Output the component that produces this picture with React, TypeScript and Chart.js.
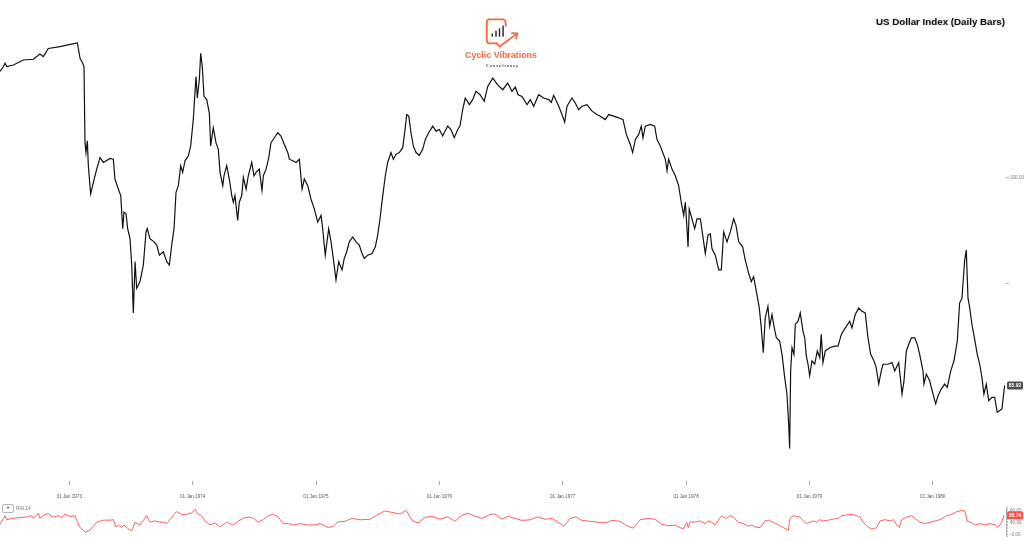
import React, { useEffect, useRef } from "react";
import { Chart, registerables } from "chart.js";

Chart.register(...registerables);

// ---------- data ----------
const priceDates = [
  1972.438, 1972.465, 1972.479, 1972.493, 1972.546, 1972.627, 1972.708, 1972.762, 1972.789, 1972.830,
  1972.925, 1972.979, 1973.046, 1973.065, 1973.087, 1973.109, 1973.119, 1973.127, 1973.135, 1973.146,
  1973.154, 1973.173, 1973.195, 1973.222, 1973.249, 1973.276, 1973.330, 1973.357, 1973.370, 1973.397,
  1973.417, 1973.433, 1973.443, 1973.460, 1973.473, 1973.492, 1973.506, 1973.519, 1973.533, 1973.546,
  1973.573, 1973.600, 1973.622, 1973.632, 1973.654, 1973.687, 1973.709, 1973.730, 1973.762, 1973.790,
  1973.811, 1973.830, 1973.849, 1973.865, 1973.884, 1973.903, 1973.919, 1973.938, 1973.965, 1973.984,
  1974.005, 1974.027, 1974.038, 1974.054, 1974.065, 1974.078, 1974.092, 1974.114, 1974.135, 1974.146,
  1974.167, 1974.189, 1974.208, 1974.222, 1974.244, 1974.254, 1974.276, 1974.297, 1974.317, 1974.330,
  1974.343, 1974.365, 1974.378, 1974.398, 1974.411, 1974.433, 1974.451, 1974.479, 1974.497, 1974.514,
  1974.540, 1974.562, 1974.573, 1974.595, 1974.617, 1974.635, 1974.662, 1974.690, 1974.716, 1974.743,
  1974.771, 1974.784, 1974.811, 1974.838, 1974.865, 1974.887, 1974.905, 1974.933, 1974.959, 1974.986,
  1975.014, 1975.041, 1975.054, 1975.075, 1975.103, 1975.122, 1975.140, 1975.162, 1975.184, 1975.211,
  1975.229, 1975.249, 1975.270, 1975.298, 1975.324, 1975.351, 1975.373, 1975.392, 1975.419, 1975.454,
  1975.481, 1975.500, 1975.519, 1975.541, 1975.562, 1975.581, 1975.608, 1975.627, 1975.649, 1975.675,
  1975.703, 1975.722, 1975.735, 1975.752, 1975.770, 1975.789, 1975.811, 1975.837, 1975.865, 1975.886,
  1975.914, 1975.946, 1975.973, 1976.000, 1976.027, 1976.068, 1976.094, 1976.121, 1976.149, 1976.167,
  1976.189, 1976.210, 1976.243, 1976.270, 1976.297, 1976.330, 1976.364, 1976.392, 1976.433, 1976.473,
  1976.514, 1976.554, 1976.589, 1976.616, 1976.638, 1976.670, 1976.711, 1976.737, 1976.765, 1976.805,
  1976.846, 1976.887, 1976.908, 1976.927, 1976.968, 1976.994, 1977.016, 1977.035, 1977.075, 1977.102,
  1977.130, 1977.156, 1977.197, 1977.238, 1977.278, 1977.305, 1977.345, 1977.373, 1977.413, 1977.454,
  1977.489, 1977.516, 1977.548, 1977.567, 1977.589, 1977.616, 1977.637, 1977.651, 1977.670, 1977.710,
  1977.746, 1977.764, 1977.791, 1977.811, 1977.832, 1977.846, 1977.859, 1977.886, 1977.913, 1977.940,
  1977.961, 1977.981, 1977.994, 1978.008, 1978.016, 1978.026, 1978.048, 1978.070, 1978.089, 1978.116,
  1978.135, 1978.156, 1978.178, 1978.197, 1978.210, 1978.237, 1978.265, 1978.286, 1978.305, 1978.332,
  1978.359, 1978.386, 1978.405, 1978.427, 1978.459, 1978.480, 1978.508, 1978.529, 1978.548, 1978.575,
  1978.594, 1978.610, 1978.626, 1978.642, 1978.664, 1978.678, 1978.697, 1978.713, 1978.732, 1978.759,
  1978.778, 1978.800, 1978.818, 1978.832, 1978.840, 1978.848, 1978.859, 1978.875, 1978.886, 1978.908,
  1978.926, 1978.948, 1978.962, 1978.975, 1978.989, 1979.002, 1979.021, 1979.043, 1979.064, 1979.084,
  1979.096, 1979.110, 1979.129, 1979.165, 1979.205, 1979.232, 1979.259, 1979.291, 1979.327, 1979.345,
  1979.372, 1979.400, 1979.426, 1979.453, 1979.475, 1979.497, 1979.524, 1979.542, 1979.562, 1979.583,
  1979.597, 1979.637, 1979.670, 1979.692, 1979.724, 1979.740, 1979.751, 1979.767, 1979.786, 1979.805,
  1979.826, 1979.854, 1979.875, 1979.894, 1979.921, 1979.929, 1979.948, 1979.975, 1980.002, 1980.024,
  1980.043, 1980.069, 1980.097, 1980.118, 1980.146, 1980.172, 1980.199, 1980.218, 1980.237, 1980.259,
  1980.272, 1980.286, 1980.300, 1980.318, 1980.340, 1980.361, 1980.381, 1980.399, 1980.415, 1980.434,
  1980.454, 1980.480, 1980.502, 1980.523, 1980.543, 1980.561, 1980.583,
];

const priceValues = [
  107.16, 107.5, 107.72, 107.5, 107.6, 107.94, 107.99, 108.34, 108.17, 108.72,
  108.84, 108.95, 109.06, 109.11, 108.05, 107.72, 107.5, 102.35, 101.68, 102.48,
  100.81, 98.88, 99.66, 100.56, 101.34, 101.01, 101.28, 101.23, 99.89, 99.21,
  98.77, 96.53, 97.65, 97.54, 96.53, 95.86, 94.07, 90.83, 94.3, 92.5,
  92.95, 94.07, 96.31, 96.53, 95.86, 95.64, 95.42, 94.74, 94.97, 94.3,
  94.07, 95.42, 96.53, 98.99, 99.44, 100.79, 100.34, 101.12, 101.46, 102.13,
  103.91, 106.83, 105.37, 106.6, 108.39, 107.5, 105.48, 105.26, 104.36, 102.13,
  103.36, 102.35, 101.9, 100.34, 99.44, 100.11, 100.79, 99.89, 98.77, 98.32,
  98.77, 97.09, 98.32, 98.77, 100.0, 99.21, 100.11, 101.01, 100.11, 100.34,
  100.56, 99.11, 100.11, 100.56, 101.34, 102.35, 102.68, 103.02, 102.8, 102.23,
  101.68, 101.23, 101.12, 101.01, 101.23, 99.21, 99.89, 99.44, 98.54, 97.87,
  96.98, 97.43, 96.53, 94.74, 96.53, 95.64, 94.52, 93.07, 94.3, 93.74,
  94.52, 94.97, 95.64, 95.97, 95.64, 95.42, 94.85, 94.52, 94.74, 94.85,
  95.3, 96.09, 97.2, 98.77, 100.11, 101.01, 101.68, 101.23, 101.56, 101.68,
  102.01, 103.24, 104.25, 104.14, 103.02, 102.13, 101.68, 101.5, 101.9, 102.57,
  103.02, 103.47, 103.13, 103.24, 102.8, 103.47, 103.24, 102.68, 103.24, 103.47,
  104.58, 105.37, 104.92, 105.26, 105.82, 105.59, 105.15, 106.15, 106.71, 106.26,
  105.93, 106.38, 105.82, 106.11, 105.59, 105.48, 104.92, 105.26, 104.81, 105.59,
  105.37, 105.26, 105.08, 105.55, 104.81, 104.25, 103.74, 104.81, 105.37, 105.03,
  104.58, 104.81, 104.92, 104.48, 104.25, 104.14, 103.91, 104.25, 104.14, 104.03,
  103.91, 102.91, 102.23, 101.68, 102.57, 102.91, 103.47, 102.68, 103.47, 103.58,
  103.47, 102.57, 102.13, 101.68, 101.23, 100.45, 101.23, 100.56, 100.11, 99.44,
  98.32, 97.43, 98.32, 96.53, 95.3, 97.87, 97.2, 96.53, 97.2, 97.2,
  96.09, 94.85, 96.09, 96.19, 95.19, 94.74, 93.74, 93.74, 96.31, 95.64,
  96.31, 97.2, 96.76, 95.64, 95.3, 94.41, 93.51, 92.95, 93.29, 92.06,
  91.16, 89.82, 88.14, 90.49, 91.28, 89.93, 90.72, 89.93, 89.15, 88.93,
  88.03, 86.46, 85.35, 83.34, 81.66, 86.91, 88.48, 88.03, 90.05, 90.27,
  90.83, 89.6, 89.15, 87.92, 87.36, 86.58, 87.58, 87.36, 88.26, 87.81,
  89.38, 87.47, 88.26, 88.48, 88.59, 88.59, 89.38, 89.82, 90.27, 89.82,
  90.72, 91.16, 90.94, 90.83, 89.15, 88.03, 87.58, 87.13, 86.02, 86.91,
  87.36, 87.36, 87.47, 86.91, 87.47, 86.24, 85.35, 86.24, 88.26, 88.7,
  89.15, 89.15, 88.7, 88.03, 86.91, 86.02, 86.69, 86.24, 85.35, 84.68,
  85.23, 85.68, 86.02, 85.79, 86.91, 87.58, 88.93, 91.5, 91.83, 94.41,
  95.08, 91.83, 91.16, 90.05, 89.04, 88.03, 87.36, 86.46, 85.35, 86.02,
  84.9, 85.12, 85.12, 84.11, 84.23, 84.34, 85.92,
];

const rsiDates = [
  1972.438, 1972.460, 1972.479, 1972.493, 1972.546, 1972.600, 1972.655, 1972.695, 1972.708, 1972.749,
  1972.762, 1972.803, 1972.830, 1972.870, 1972.911, 1972.938, 1972.965, 1973.006, 1973.046, 1973.065,
  1973.087, 1973.113, 1973.127, 1973.168, 1973.222, 1973.276, 1973.330, 1973.357, 1973.379, 1973.397,
  1973.425, 1973.443, 1973.478, 1973.506, 1973.533, 1973.573, 1973.627, 1973.654, 1973.695, 1973.735,
  1973.762, 1973.790, 1973.816, 1973.857, 1973.871, 1973.911, 1973.952, 1973.992, 1974.019, 1974.046,
  1974.073, 1974.100, 1974.141, 1974.181, 1974.222, 1974.276, 1974.330, 1974.370, 1974.411, 1974.451,
  1974.492, 1974.532, 1974.573, 1974.613, 1974.654, 1974.694, 1974.735, 1974.775, 1974.816, 1974.870,
  1974.925, 1974.992, 1975.032, 1975.100, 1975.140, 1975.181, 1975.235, 1975.292, 1975.357, 1975.438,
  1975.503, 1975.559, 1975.616, 1975.681, 1975.730, 1975.778, 1975.827, 1975.884, 1975.940, 1976.005,
  1976.070, 1976.127, 1976.184, 1976.232, 1976.289, 1976.346, 1976.411, 1976.451, 1976.508, 1976.557,
  1976.613, 1976.670, 1976.735, 1976.800, 1976.856, 1976.913, 1976.962, 1977.011, 1977.059, 1977.108,
  1977.156, 1977.221, 1977.286, 1977.343, 1977.400, 1977.465, 1977.521, 1977.570, 1977.627, 1977.692,
  1977.748, 1977.805, 1977.854, 1977.910, 1977.951, 1977.978, 1978.005, 1978.018, 1978.032, 1978.073,
  1978.113, 1978.154, 1978.180, 1978.208, 1978.235, 1978.289, 1978.302, 1978.330, 1978.356, 1978.383,
  1978.424, 1978.464, 1978.505, 1978.532, 1978.559, 1978.600, 1978.640, 1978.667, 1978.707, 1978.748,
  1978.788, 1978.829, 1978.843, 1978.869, 1978.897, 1978.924, 1978.951, 1978.978, 1979.005, 1979.032,
  1979.059, 1979.086, 1979.113, 1979.153, 1979.194, 1979.234, 1979.262, 1979.302, 1979.343, 1979.383,
  1979.410, 1979.437, 1979.478, 1979.518, 1979.546, 1979.572, 1979.613, 1979.653, 1979.680, 1979.708,
  1979.729, 1979.748, 1979.789, 1979.829, 1979.856, 1979.897, 1979.937, 1979.978, 1980.018, 1980.059,
  1980.113, 1980.154, 1980.194, 1980.235, 1980.261, 1980.280, 1980.302, 1980.343, 1980.383, 1980.424,
  1980.464, 1980.505, 1980.531, 1980.559, 1980.578,
];

const rsiValues = [
  35, 50.7, 64, 50.7, 55.2, 57.8, 59.5, 64, 55.2, 72.8,
  55.2, 68.5, 70.1, 59.5, 64, 57.8, 68.5, 61.3, 64, 43.5,
  24, 15.2, 8, 15.2, 41.9, 48.8, 48.8, 50.7, 25.9, 32.8,
  24, 32.8, 19.5, 13.3, 41.9, 32.8, 64, 41.9, 46.1, 41.9,
  41.9, 37.3, 50.7, 72.8, 77.3, 68.5, 68.5, 72.8, 86.1, 68.5,
  64, 46.1, 32.8, 40, 25.9, 41.9, 32.8, 46.1, 55.2, 59.5,
  55.2, 41.9, 50.7, 64, 68.5, 59.5, 37.3, 37.3, 32.8, 37.3,
  32.8, 32.8, 37.3, 24, 28.5, 43.5, 45, 55, 50, 52,
  68, 80, 75, 70, 82, 48, 40, 58, 62, 52,
  60, 45, 66, 72, 62, 55, 68, 70, 52, 62,
  55, 48, 50, 60, 52, 55, 42, 28, 55, 60,
  48, 45, 42, 40, 48, 45, 30, 22, 50, 55,
  52, 35, 30, 32, 24, 19.5, 41.9, 24, 43.5, 41.9,
  46.1, 37.3, 46.1, 41.9, 32.8, 64, 59.5, 55.2, 64, 59.5,
  41.9, 37.3, 28.5, 32.8, 25.9, 24, 46.1, 48.8, 41.9, 32.8,
  24, 15.2, 55.2, 64, 61.3, 59.5, 46.1, 37.3, 41.9, 46.1,
  41.9, 50.7, 46.1, 48.8, 52.5, 55.2, 64, 66.7, 68.5, 64,
  59.5, 41.9, 24, 19.5, 24, 46.1, 50.7, 46.1, 50.7, 32.8,
  24, 50.7, 59.5, 64, 55.2, 41.9, 37.3, 41.9, 46.1, 50.7,
  64, 68.5, 77.3, 81.8, 79.2, 46.1, 41.9, 32.8, 37.3, 32.8,
  37.3, 32.8, 24, 41.9, 65.74,
];

const yearTicks = [1973, 1974, 1975, 1976, 1977, 1978, 1979, 1980];
const yearLabels = [
  "01 Jan 1973", "01 Jan 1974", "01 Jan 1975", "01 Jan 1976",
  "01 Jan 1977", "01 Jan 1978", "01 Jan 1979", "01 Jan 1980",
];
const priceTickValues = [100, 92.8];
const priceTickLabels = ["100.00", ""];
const rsiTickValues = [0, 40, 80];
const rsiTickLabels = ["-0.00", "40.00", "80.00"];
const lastPriceLabel = "85.92";
const lastRsiLabel = "65.74";
const chartTitle = "US Dollar Index (Daily Bars)";
const brandName = "Cyclic Vibrations";
const brandSub = "Consultancy";
const rsiLegend = "RSI 14";

// ---------- layout constants ----------
const X_MIN = 1972.438;
const X_MAX = 1980.594;
const PRICE_MIN = 79.463;
const PRICE_MAX = 111.745;
const RSI_MIN = -5.33;
const RSI_MAX = 90.67;
const FONT = "'Liberation Sans', Arial, sans-serif";
const AXIS_W = 18;

function makeLastLabel(text: string, bg: string) {
  return {
    id: "lastLabel",
    afterDraw(chart: any) {
      const data = chart.data.datasets[0].data;
      const last = data[data.length - 1];
      const y = chart.scales.y.getPixelForValue(last.y);
      const ctx = chart.ctx;
      const x0 = chart.chartArea.right + 1;
      const w = 16;
      const h = 8;
      ctx.save();
      ctx.fillStyle = bg;
      ctx.beginPath();
      if (ctx.roundRect) ctx.roundRect(x0, y - h / 2, w, h, 1.5);
      else ctx.rect(x0, y - h / 2, w, h);
      ctx.fill();
      ctx.fillStyle = "#ffffff";
      ctx.font = `bold 5px ${FONT}`;
      ctx.textAlign = "center";
      ctx.textBaseline = "middle";
      ctx.fillText(text, x0 + w / 2, y + 0.3);
      ctx.restore();
    },
  };
}

export default function App() {
  const priceRef = useRef<HTMLCanvasElement | null>(null);
  const rsiRef = useRef<HTMLCanvasElement | null>(null);

  useEffect(() => {
    document.body.style.margin = "0";
    const priceData = priceDates.map((d, i) => ({ x: d, y: priceValues[i] }));
    const rsiData = rsiDates.map((d, i) => ({ x: d, y: rsiValues[i] }));

    const priceChart = new Chart(priceRef.current as HTMLCanvasElement, {
      type: "line",
      data: {
        datasets: [
          {
            data: priceData,
            borderColor: "#111111",
            borderWidth: 1.2,
            pointRadius: 0,
            tension: 0,
            fill: false,
          },
        ],
      },
      options: {
        responsive: false,
        animation: false,
        events: [],
        layout: { padding: 0 },
        plugins: { legend: { display: false }, tooltip: { enabled: false } },
        scales: {
          x: {
            type: "linear",
            min: X_MIN,
            max: X_MAX,
            position: "bottom",
            afterBuildTicks: (s: any) => {
              s.ticks = yearTicks.map((v) => ({ value: v }));
            },
            afterFit: (s: any) => {
              s.height = 22;
            },
            grid: { drawOnChartArea: false, drawTicks: true, tickLength: 4, color: "#8a8a8a", lineWidth: 0.8 },
            border: { display: false },
            ticks: {
              autoSkip: false,
              maxRotation: 0,
              padding: 9,
              color: "#555555",
              font: { size: 4.6, family: FONT },
              callback: (v: any) => {
                const i = yearTicks.indexOf(Number(v));
                return i >= 0 ? yearLabels[i] : "";
              },
            },
          },
          y: {
            type: "linear",
            position: "right",
            min: PRICE_MIN,
            max: PRICE_MAX,
            afterBuildTicks: (s: any) => {
              s.ticks = priceTickValues.map((v) => ({ value: v }));
            },
            afterFit: (s: any) => {
              s.width = AXIS_W;
            },
            grid: { drawOnChartArea: false, tickLength: 3, color: "#9a9a9a", lineWidth: 0.8 },
            border: { display: false },
            ticks: {
              padding: 1,
              color: "#777777",
              font: { size: 4.6, family: FONT },
              callback: (v: any) => {
                const i = priceTickValues.indexOf(Number(v));
                return i >= 0 ? priceTickLabels[i] : "";
              },
            },
          },
        },
      },
      plugins: [makeLastLabel(lastPriceLabel, "#4d4d4d")],
    } as any);

    const rsiChart = new Chart(rsiRef.current as HTMLCanvasElement, {
      type: "line",
      data: {
        datasets: [
          {
            data: rsiData,
            borderColor: "#ff4d4d",
            borderWidth: 0.9,
            pointRadius: 0,
            tension: 0,
            fill: false,
          },
        ],
      },
      options: {
        responsive: false,
        animation: false,
        events: [],
        layout: { padding: { top: 2, bottom: 0, left: 0, right: 0 } },
        plugins: { legend: { display: false }, tooltip: { enabled: false } },
        scales: {
          x: {
            type: "linear",
            min: X_MIN,
            max: X_MAX,
            display: false,
          },
          y: {
            type: "linear",
            position: "right",
            min: RSI_MIN,
            max: RSI_MAX,
            afterBuildTicks: (s: any) => {
              const t: any[] = [];
              for (let v = -5; v <= 90; v += 5) t.push({ value: v });
              s.ticks = t;
            },
            afterFit: (s: any) => {
              s.width = AXIS_W;
            },
            grid: { drawOnChartArea: false, tickLength: 2, color: "#9a9a9a", lineWidth: 0.6 },
            border: { display: true, color: "#9a9a9a", width: 0.8 },
            ticks: {
              padding: 2,
              color: "#777777",
              autoSkip: false,
              font: { size: 4.6, family: FONT },
              callback: (v: any) => {
                const i = rsiTickValues.indexOf(Number(v));
                return i >= 0 ? rsiTickLabels[i] : "";
              },
            },
          },
        },
      },
      plugins: [makeLastLabel(lastRsiLabel, "#ff4d4d")],
    } as any);

    return () => {
      priceChart.destroy();
      rsiChart.destroy();
    };
  }, []);

  const orange = "#f26a3d";

  return (
    <div
      style={{
        position: "fixed",
        left: 0,
        top: 0,
        width: 1024,
        height: 541,
        background: "#ffffff",
        overflow: "hidden",
      }}
    >
      <canvas
        ref={priceRef}
        width={1024}
        height={503}
        style={{ position: "absolute", left: 0, top: 0, width: 1024, height: 503 }}
      />
      <canvas
        ref={rsiRef}
        width={1024}
        height={38}
        style={{ position: "absolute", left: 0, top: 503, width: 1024, height: 38 }}
      />
      <svg
        width={1024}
        height={541}
        style={{ position: "absolute", left: 0, top: 0, pointerEvents: "none" }}
      >
        {/* title */}
        <text
          x={876}
          y={25.3}
          fontFamily={FONT}
          fontWeight="bold"
          fontSize={9}
          fill="#151515"
          textLength={129}
          lengthAdjust="spacingAndGlyphs"
          style={{ textShadow: "0 0 1.5px rgba(0,0,0,0.35)" }}
        >
          {chartTitle}
        </text>
        {/* logo icon */}
        <path
          d="M 496.5 43.3 L 489.5 43.3 Q 486.8 43.3 486.8 40.6 L 486.8 22 Q 486.8 19.3 489.5 19.3 L 502.5 19.3 Q 505.3 19.3 505.5 22 L 505.8 26"
          stroke={orange}
          strokeWidth={1.8}
          fill="none"
          strokeLinecap="round"
        />
        <path
          d="M 496.5 43.3 L 499.5 46.5 L 516.5 34"
          stroke={orange}
          strokeWidth={1.8}
          fill="none"
          strokeLinejoin="round"
          strokeLinecap="round"
        />
        <path d="M 512 33.2 L 517.5 33.3 L 516.2 38.5" stroke={orange} strokeWidth={1.8} fill="none" strokeLinecap="round" strokeLinejoin="round" />
        <rect x={491.6} y={33.5} width={1.4} height={3.2} fill="#222" />
        <rect x={495.3} y={30.7} width={1.4} height={6} fill="#222" />
        <rect x={498.8} y={28.3} width={1.4} height={8.4} fill="#222" />
        <rect x={502.4} y={25.5} width={1.4} height={11.2} fill="#222" />
        {/* brand text */}
        <text
          x={465}
          y={58.2}
          fontFamily={FONT}
          fontWeight="bold"
          fontSize={9.5}
          fill={orange}
          textLength={72}
          lengthAdjust="spacingAndGlyphs"
        >
          {brandName}
        </text>
        <text
          x={486}
          y={66.6}
          fontFamily={FONT}
          fontWeight="bold"
          fontSize={3.6}
          fill="#333"
          textLength={32}
          lengthAdjust="spacing"
        >
          {brandSub}
        </text>
      </svg>
      {/* RSI legend */}
      <div
        style={{
          position: "absolute",
          left: 2,
          top: 504,
          width: 10,
          height: 6.5,
          border: "0.6px solid #b5b5b5",
          borderRadius: 2,
          background: "#fff",
          fontFamily: FONT,
          fontSize: 4,
          lineHeight: "6.5px",
          textAlign: "center",
          color: "#333",
        }}
      >
        ▼
      </div>
      <div
        style={{
          position: "absolute",
          left: 16,
          top: 505.5,
          fontFamily: FONT,
          fontSize: 4.8,
          lineHeight: "6px",
          color: "#777",
          whiteSpace: "nowrap",
        }}
      >
        {rsiLegend}
      </div>
    </div>
  );
}
